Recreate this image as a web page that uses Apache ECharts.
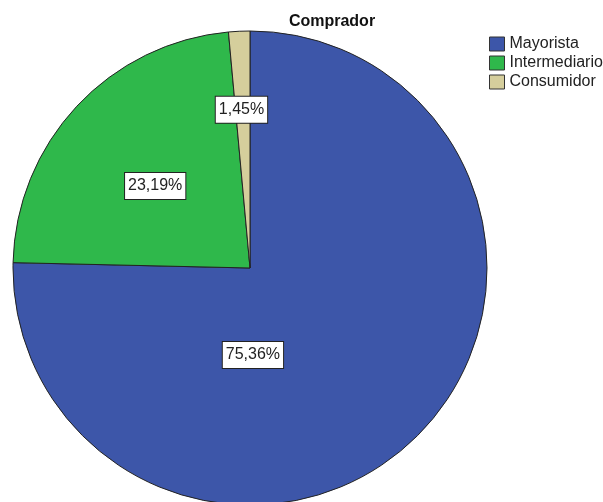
<!DOCTYPE html>
<html>
<head>
<meta charset="utf-8">
<script src="https://cdn.jsdelivr.net/npm/echarts@6/dist/echarts.min.js"></script>
<style>
  html, body { margin: 0; padding: 0; background: #fff; }
  #chart { width: 603px; height: 502px; }
</style>
</head>
<body>
<div id="chart"></div>
<script>
// data
const categories = ["Mayorista", "Intermediario", "Consumidor"];
const percents = [75.36, 23.19, 1.45];

// styling only
const colors = ["#3d56a9", "#2fb84b", "#d5ce9c"];
const labelOffsets = [[-82, 0], [-6, 1], [-3, -37]];

const fmt = (v) => v.toFixed(2).replace(".", ",") + "%";

const myChart = echarts.init(document.getElementById("chart"), null, { renderer: "canvas" });

let data = categories.map((name, i) => ({
  name,
  value: percents[i],
  itemStyle: { color: colors[i] },
  label: { offset: labelOffsets[i] },
}));

let option = {
  animation: false,
  title: {
    text: "Comprador",
    left: 327,
    top: 9,
    textAlign: "center",
    textStyle: { fontFamily: "Liberation Sans", fontSize: 16, fontWeight: "bold", color: "#111" },
  },
  legend: {
    orient: "vertical",
    left: 489,
    top: 36,
    padding: 0,
    itemWidth: 15,
    itemHeight: 14,
    itemGap: 3,
    icon: "rect",
    data: categories,
    itemStyle: { borderColor: "#333", borderWidth: 1 },
    textStyle: { fontFamily: "Liberation Sans", fontSize: 16, lineHeight: 16, color: "#222" },
  },
  series: [
    {
      type: "pie",
      center: [250, 268],
      radius: 237,
      startAngle: 90,
      clockwise: true,
      itemStyle: { borderColor: "#222", borderWidth: 1 },
      label: {
        position: "inside",
        formatter: (p) => fmt(p.value),
        fontFamily: "Liberation Sans",
        fontSize: 16,
        color: "#222",
        backgroundColor: "#fff",
        borderColor: "#222",
        borderWidth: 1,
        padding: [6, 3, 4, 3],
      },
      labelLine: { show: false },
      emphasis: { disabled: true },
      data,
    },
  ],
};

myChart.setOption(option);
</script>
</body>
</html>
